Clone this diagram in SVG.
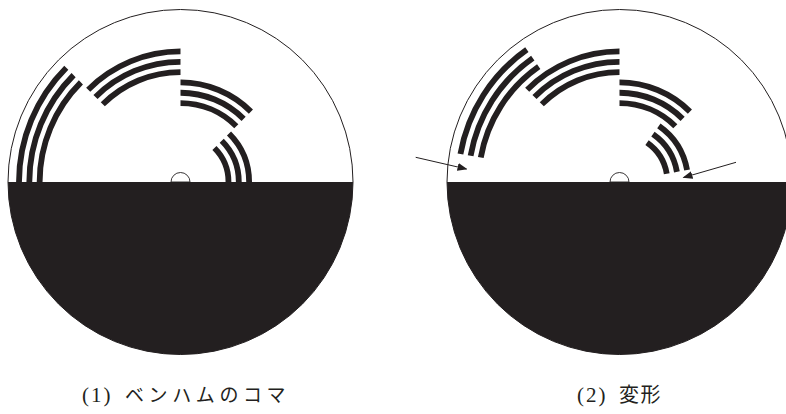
<svg xmlns="http://www.w3.org/2000/svg" xmlns:xlink="http://www.w3.org/1999/xlink" width="786" height="414" viewBox="0 0 786 414">
  <style>
    .rim { fill: #ffffff; stroke: #231f20; stroke-width: 1; }
    .half { fill: #231f20; stroke: none; }
    .hub { fill: #ffffff; stroke: #231f20; stroke-width: 0.9; }
    .arc { fill: none; stroke: #231f20; stroke-width: 5.8; stroke-linecap: butt; }
    .arrow { fill: none; stroke: #231f20; stroke-width: 1; }
    .label { font-family: "Liberation Serif", "Noto Sans CJK JP", serif; font-size: 19px; fill: #231f20; }
    .num { font-size: 21px; letter-spacing: 2px; }
    .kana { letter-spacing: 4.6px; }
    .kanji { font-size: 20px; letter-spacing: 1.5px; }
  </style>
  <defs>
    <marker id="ah" markerWidth="10" markerHeight="8" refX="9" refY="4" orient="auto" markerUnits="userSpaceOnUse">
      <path d="M0,0 L10,4 L0,8 Z" fill="#231f20"/>
    </marker>
    <g id="s1">
      <path class="arc" d="M -161.5 0 A 161.5 161.5 0 0 1 -114.2 -114.2"/>
      <path class="arc" d="M -151.18 0 A 151.18 151.18 0 0 1 -106.9 -106.9"/>
      <path class="arc" d="M -140.86 0 A 140.86 140.86 0 0 1 -99.6 -99.6"/>
    </g>
    <g id="s2">
      <path class="arc" d="M -92.31 -92.31 A 130.54 130.54 0 0 1 0 -130.54"/>
      <path class="arc" d="M -85.01 -85.01 A 120.22 120.22 0 0 1 0 -120.22"/>
      <path class="arc" d="M -77.71 -77.71 A 109.9 109.9 0 0 1 0 -109.9"/>
    </g>
    <g id="s3">
      <path class="arc" d="M 0 -99.58 A 99.58 99.58 0 0 1 70.41 -70.41"/>
      <path class="arc" d="M 0 -89.26 A 89.26 89.26 0 0 1 63.12 -63.12"/>
      <path class="arc" d="M 0 -78.94 A 78.94 78.94 0 0 1 55.82 -55.82"/>
    </g>
    <g id="s4">
      <path class="arc" d="M 48.52 -48.52 A 68.62 68.62 0 0 1 68.62 0"/>
      <path class="arc" d="M 41.22 -41.22 A 58.3 58.3 0 0 1 58.3 0"/>
      <path class="arc" d="M 33.93 -33.93 A 47.98 47.98 0 0 1 47.98 0"/>
    </g>
  </defs>

  <g id="top1" transform="translate(180.5,182)">
    <circle class="rim" cx="0" cy="0" r="172.5"/>
    <path class="half" d="M -172.5 0 A 172.5 172.5 0 0 0 172.5 0 Z"/>
    <use xlink:href="#s1"/>
    <use xlink:href="#s2"/>
    <use xlink:href="#s3"/>
    <use xlink:href="#s4"/>
    <path class="hub" d="M -9.5 0 A 9.5 9.5 0 0 1 9.5 0 Z"/>
  </g>

  <g id="top2" transform="translate(619.5,182)">
    <circle class="rim" cx="0" cy="0" r="172.5"/>
    <path class="half" d="M -172.5 0 A 172.5 172.5 0 0 0 172.5 0 Z"/>
    <use xlink:href="#s1" transform="rotate(10)"/>
    <use xlink:href="#s2"/>
    <use xlink:href="#s3"/>
    <use xlink:href="#s4" transform="rotate(-10)"/>
    <path class="hub" d="M -9.5 0 A 9.5 9.5 0 0 1 9.5 0 Z"/>
  </g>

  <g id="connectors">
    <line class="arrow" x1="415.7" y1="157.3" x2="466.5" y2="169" marker-end="url(#ah)"/>
    <line class="arrow" x1="736" y1="162.3" x2="683.5" y2="177.5" marker-end="url(#ah)"/>
  </g>

  <g id="labels">
    <text class="label" x="82" y="402"><tspan class="num" x="82">(1)</tspan><tspan class="kana" x="125">ベンハムのコマ</tspan></text>
    <text class="label" x="577" y="402"><tspan class="num" x="577">(2)</tspan><tspan class="kanji" x="619">変形</tspan></text>
  </g>
</svg>
